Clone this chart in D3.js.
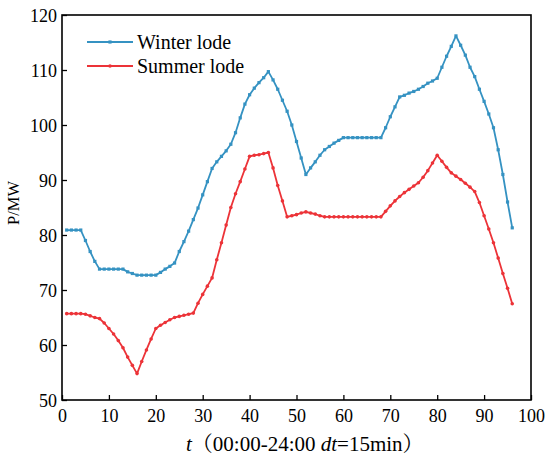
<!DOCTYPE html>
<html>
<head>
<meta charset="utf-8">
<script src="https://cdn.jsdelivr.net/npm/d3@7"></script>
<style>
body{margin:0;background:#fff;}
svg{display:block;}
svg text{font-family:"Liberation Serif","Times New Roman","Noto Serif CJK SC","Noto Sans CJK SC",serif;}
</style>
</head>
<body>
<svg id="chart" width="550" height="459"></svg>
<script>
const timeSteps = d3.range(1, 97);
const winterLoad = [
 80.9,80.9,80.9,80.9,79.0,77.0,75.2,73.8,73.8,73.8,
 73.8,73.8,73.8,73.3,73.0,72.7,72.7,72.7,72.7,72.7,
 73.2,73.8,74.3,74.9,77.0,78.8,80.7,82.8,84.9,87.3,
 89.7,92.1,93.3,94.3,95.3,96.5,98.6,101.3,103.8,105.5,
 106.7,107.7,108.6,109.7,108.2,106.5,104.5,102.5,100.0,97.0,
 94.0,91.0,92.2,93.3,94.5,95.5,96.1,96.7,97.2,97.7,
 97.7,97.7,97.7,97.7,97.7,97.7,97.7,97.7,99.5,101.5,
 103.3,105.1,105.4,105.8,106.1,106.5,107.0,107.6,108.0,108.5,
 110.5,112.5,114.3,116.2,114.5,112.7,110.5,108.8,106.5,104.3,
 102.0,99.5,95.5,91.0,86.0,81.3
];
const summerLoad = [
 65.7,65.7,65.7,65.7,65.6,65.3,65.0,64.8,64.0,63.0,
 62.0,60.8,59.5,57.8,56.3,54.8,57.0,59.1,61.1,63.0,
 63.6,64.1,64.6,65.0,65.2,65.4,65.6,65.8,67.6,69.2,
 70.7,72.2,75.5,78.6,81.8,85.0,87.5,89.7,92.0,94.3,
 94.5,94.6,94.8,95.0,92.2,89.0,86.2,83.3,83.5,83.7,
 84.0,84.2,84.0,83.8,83.5,83.3,83.3,83.3,83.3,83.3,
 83.3,83.3,83.3,83.3,83.3,83.3,83.3,83.3,84.3,85.3,
 86.2,87.0,87.7,88.3,88.9,89.5,90.5,91.7,93.1,94.5,
 93.4,92.3,91.3,90.7,90.1,89.4,88.7,87.9,85.9,83.5,
 81.1,78.6,75.8,73.0,70.3,67.5
];
const seriesNames = ["Winter lode", "Summer lode"];
const xTicks = [0,10,20,30,40,50,60,70,80,90,100];
const yTicks = [50,60,70,80,90,100,110,120];

const colors = ["#3592C2", "#EC3338"];
const svg = d3.select("#chart");
const L = 62, R = 531, T = 15, B = 400;
const x = d3.scaleLinear().domain([0,100]).range([L,R]);
const y = d3.scaleLinear().domain([50,120]).range([B,T]);

// axes
const xAxis = d3.axisBottom(x).tickValues(xTicks).tickSizeInner(-5).tickSizeOuter(0).tickPadding(9);
const yAxis = d3.axisLeft(y).tickValues(yTicks).tickSizeInner(-5).tickSizeOuter(0).tickPadding(5);
const gx = svg.append("g").attr("transform",`translate(0,${B})`).call(xAxis);
const gy = svg.append("g").attr("transform",`translate(${L},0)`).call(yAxis);
[gx,gy].forEach(g=>{
  g.attr("font-family",null).attr("font-size",null);
  g.select(".domain").remove();
  g.selectAll(".tick line").attr("stroke","#000").attr("stroke-width",1.3);
  g.selectAll(".tick text").attr("fill","#000").style("font-size","18px");
});
gy.selectAll(".tick text").attr("dy","0.35em");

// frame
svg.append("rect").attr("x",L).attr("y",T).attr("width",R-L).attr("height",B-T)
  .attr("fill","none").attr("stroke","#000").attr("stroke-width",1.6);

const data = [winterLoad, summerLoad];
const line = d3.line().x((d,i)=>x(timeSteps[i])).y(d=>y(d));
data.forEach((vals,k)=>{
  svg.append("path").datum(vals).attr("d",line).attr("fill","none")
    .attr("stroke",colors[k]).attr("stroke-width",1.8).attr("stroke-linejoin","round");
  const g = svg.append("g").attr("fill",colors[k]);
  if(k===0){
    g.selectAll("rect").data(vals).join("rect")
      .attr("x",(d,i)=>x(timeSteps[i])-1.6).attr("y",d=>y(d)-1.6)
      .attr("width",3.2).attr("height",3.2);
  } else {
    g.selectAll("circle").data(vals).join("circle")
      .attr("cx",(d,i)=>x(timeSteps[i])).attr("cy",d=>y(d)).attr("r",1.8);
  }
});

// legend
seriesNames.forEach((name,k)=>{
  const ly = 42 + k*24;
  svg.append("line").attr("x1",87).attr("x2",133).attr("y1",ly).attr("y2",ly)
    .attr("stroke",colors[k]).attr("stroke-width",1.8);
  if(k===0){
    svg.append("rect").attr("x",110-1.6).attr("y",ly-1.6).attr("width",3.2).attr("height",3.2).attr("fill",colors[k]);
  } else {
    svg.append("circle").attr("cx",110).attr("cy",ly).attr("r",1.8).attr("fill",colors[k]);
  }
  svg.append("text").attr("x",137).attr("y",ly).attr("dy","0.35em")
    .style("font-size","20px").attr("fill","#000").text(name);
});

// axis titles
svg.append("text").attr("transform",`translate(13,203) rotate(-90)`)
  .attr("text-anchor","middle").attr("dy","0.35em").style("font-size","16.5px").text("P/MW");

const xt = svg.append("text").attr("x",186).attr("y",451).attr("text-anchor","start").style("font-size","21px");
xt.append("tspan").style("font-style","italic").text("t");
xt.append("tspan").text("（00:00-24:00 ");
xt.append("tspan").style("font-style","italic").text("dt");
xt.append("tspan").text("=15min）");
</script>
</body>
</html>
